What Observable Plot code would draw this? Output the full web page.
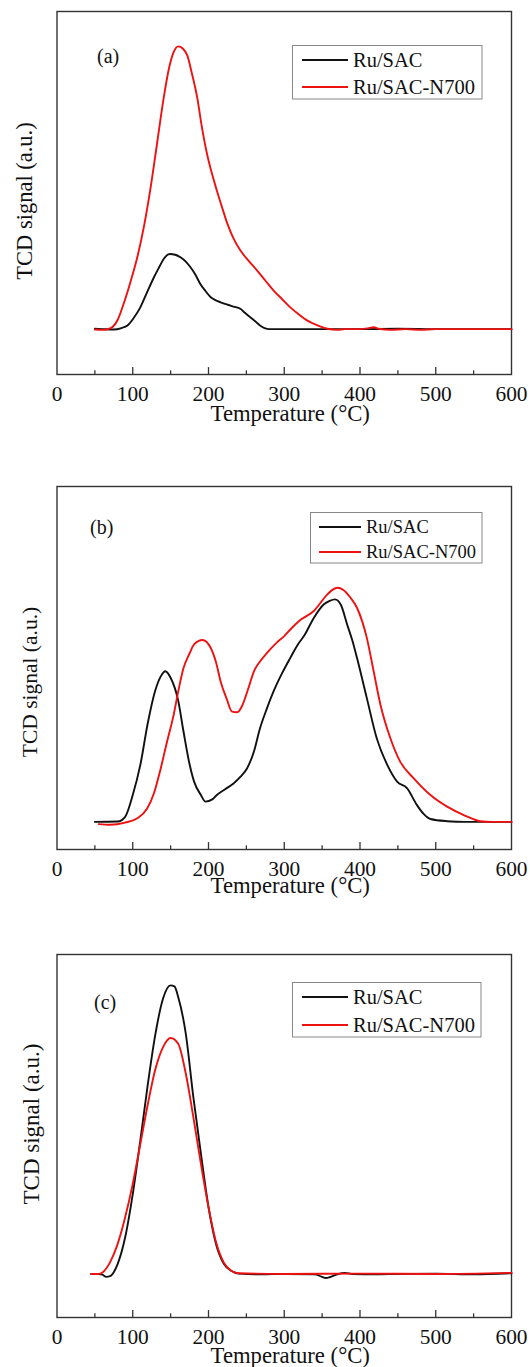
<!DOCTYPE html>
<html>
<head>
<meta charset="utf-8">
<script src="https://cdn.jsdelivr.net/npm/d3@7"></script>
<script src="https://cdn.jsdelivr.net/npm/@observablehq/plot@0.6"></script>
<style>
  body { margin: 0; background: #fff; }
  #root { position: relative; width: 530px; height: 1367px; overflow: hidden; font-family: "Liberation Serif", serif; }
  .panel { position: absolute; left: 0; }
  .legend { position: absolute; }
</style>
</head>
<body>
<div id="root"></div>
<script>
// ---------- data ----------
const seriesNames = ["Ru/SAC", "Ru/SAC-N700"];
const seriesColors = ["#111111", "#ee1111"];
const panelLabels = ["(a)", "(b)", "(c)"];
const xTicks = [0, 100, 200, 300, 400, 500, 600];
const xMinorTicks = [50, 150, 250, 350, 450, 550];
const xLabel = "Temperature (°C)";
const yLabel = "TCD signal (a.u.)";

// Panel (a)
const tempA_SAC = [50,60,75,85,93,101,110,119,128,135,141,149,156,163,170,176,183,189,196,203,209,216,224,233,242,248,255,262,268,274,280,300,350,400,450,500,550,600];
const sigA_SAC  = [12.6,12.5,12.4,12.8,13.5,15.5,18.5,22.7,26.8,29.6,31.9,33.2,33.0,32.3,31.1,29.6,27.4,25.0,23.0,21.3,20.5,19.9,19.3,18.7,18.1,17.0,15.8,14.6,13.5,12.8,12.5,12.5,12.5,12.5,12.6,12.5,12.5,12.5];
const tempA_N700 = [50,60,71,80,88,97,106,115,123,132,141,148,154,160,166,172,178,185,191,198,205,211,218,225,233,242,253,264,275,286,297,308,319,330,343,357,370,380,400,410,418,425,440,460,480,500,550,600];
const sigA_N700  = [12.4,12.3,12.8,15.0,19.5,25.5,32.3,41.0,50.7,63.5,76.4,84.5,88.8,90.4,89.8,87.9,83.0,76.4,68.5,60.8,55.0,50.7,46.0,41.5,37.5,34.2,31.3,28.7,25.9,23.1,20.8,18.5,16.6,14.9,13.6,12.6,12.3,12.5,12.5,12.7,13.0,12.6,12.3,12.5,12.3,12.5,12.5,12.5];

// Panel (b)
const tempB_SAC = [50,80,90,100,110,120,130,137,143,150,160,167,175,181,190,196,205,211,222,233,242,251,260,268,277,286,297,308,318,326,339,352,360,367,375,383,390,396,409,422,436,449,462,475,484,493,515,540,600];
const sigB_SAC  = [7.6,7.7,9.0,15.0,23.3,35.0,44.0,47.7,49.1,47.3,41.0,32.5,23.5,18.7,15.0,13.2,13.8,15.0,16.6,18.2,20.0,22.4,27.0,33.4,38.8,43.6,48.5,52.8,56.5,58.8,63.8,67.5,68.5,68.9,67.3,62.0,57.5,52.8,41.7,30.7,23.3,18.7,16.9,12.3,9.8,8.4,7.8,7.6,7.6];
const tempB_N700 = [55,70,90,106,119,128,137,145,154,160,167,175,181,192,203,210,216,224,231,238,244,252,260,268,277,290,300,308,320,339,357,364,370,378,387,396,409,418,427,440,453,471,493,515,537,559,575,600];
const sigB_N700  = [7.0,6.8,7.4,8.6,11.3,15.5,22.4,29.5,37.1,43.5,50.0,54.0,56.5,57.7,55.5,51.5,46.3,41.5,38.0,37.8,39.4,44.0,49.1,51.8,54.1,57.0,58.8,60.6,63.0,65.7,70.3,71.6,72.1,71.5,69.5,66.6,58.3,49.1,39.9,30.7,24.2,19.6,15.0,11.8,9.5,7.8,7.6,7.6];

// Panel (c)
const tempC_SAC = [45,55,60,65,70,80,90,100,110,120,130,140,150,155,160,170,180,190,200,210,220,230,240,270,300,340,350,355,360,370,380,390,420,450,500,550,600];
const sigC_SAC  = [12.0,12.0,11.8,11.2,11.4,14.7,22.1,34.0,48.8,64.4,78.2,87.9,91.5,91.2,88.3,78.2,60.7,45.1,30.4,20.2,14.9,12.9,12.1,11.9,12.0,11.9,11.2,10.9,11.1,11.9,12.3,12.0,11.9,12.0,12.1,11.9,12.2];
const tempC_N700 = [45,55,60,70,80,90,100,110,120,130,140,150,160,170,180,190,200,210,220,230,240,300,400,500,600];
const sigC_N700  = [12.0,12.0,12.4,15.2,20.2,27.6,36.8,47.8,58.9,68.5,74.5,77.0,75.4,67.2,55.2,42.3,30.4,20.7,15.2,12.9,12.2,12.0,12.1,12.0,12.3];

// ---------- layout config (positions/styles) ----------
const panels = [
  { top: 0,   temps: [tempA_SAC, tempA_N700], sigs: [sigA_SAC, sigA_N700],
    lab: {dx: 40, dy: 45}, ylab: {dx: -32, dy: 8, size: 22.5}, xlabDy: 38,
    legend: {left: 292, top: 45, w: 190, h: 54, lineX0: 10, lineX1: 56, textX: 61, rows: [15, 42], font: 20.5} },
  { top: 475, temps: [tempB_SAC, tempB_N700], sigs: [sigB_SAC, sigB_N700],
    lab: {dx: 33, dy: 41}, ylab: {dx: -27, dy: 14, size: 21.5}, xlabDy: 35,
    legend: {left: 310, top: 512, w: 172, h: 51, lineX0: 9, lineX1: 51, textX: 56, rows: [15, 40], font: 18.5} },
  { top: 943, temps: [tempC_SAC, tempC_N700], sigs: [sigC_SAC, sigC_N700],
    lab: {dx: 37, dy: 48}, ylab: {dx: -25.5, dy: -12, size: 23}, xlabDy: 37,
    legend: {left: 292, top: 982, w: 189, h: 55, lineX0: 10, lineX1: 56, textX: 61, rows: [15, 43], font: 20.5} }
];

const root = document.getElementById("root");

panels.forEach((p, i) => {
  const rows = [];
  p.temps.forEach((ts, s) => ts.forEach((t, k) => rows.push({series: seriesNames[s], t, v: p.sigs[s][k]})));

  const chart = Plot.plot({
    width: 530,
    height: 424,
    marginLeft: 56.5,
    marginRight: 19,
    marginTop: 11,
    marginBottom: 50,
    style: {fontFamily: "Liberation Serif, serif", background: "transparent", overflow: "visible", color: "#111"},
    x: {domain: [0, 600]},
    y: {domain: [0, 100]},
    color: {domain: seriesNames, range: seriesColors},
    marks: [
      Plot.frame({stroke: "#333", strokeWidth: 1.4}),
      Plot.ruleX(xTicks.slice(1, -1), {x: d => d, y1: 0, y2: 1.9, stroke: "#333", strokeWidth: 1.3}),
      Plot.ruleX(xMinorTicks, {x: d => d, y1: 0, y2: 1.0, stroke: "#333", strokeWidth: 1.3}),
      Plot.axisX({ticks: xTicks, tickSize: 0, tickPadding: 11, fontSize: 21.4, label: null, tickFormat: d => String(d)}),
      Plot.axisY({ticks: [], label: null, tickSize: 0}),
      Plot.line(rows, {x: "t", y: "v", z: "series", stroke: "series", strokeWidth: 1.9, curve: "monotone-x"}),
      Plot.text([xLabel], {frameAnchor: "bottom", dx: 6, dy: p.xlabDy + 1, fontSize: 22.7, textAnchor: "middle", lineAnchor: "middle", fill: "#111"}),
      Plot.text([yLabel], {frameAnchor: "left", rotate: -90, dx: p.ylab.dx, dy: p.ylab.dy, fontSize: p.ylab.size, textAnchor: "middle", lineAnchor: "middle", fill: "#111"}),
      Plot.text([panelLabels[i]], {frameAnchor: "top-left", dx: p.lab.dx, dy: p.lab.dy, textAnchor: "start", lineAnchor: "middle", fontSize: 20, fill: "#111"})
    ]
  });
  const wrap = document.createElement("div");
  wrap.className = "panel";
  wrap.style.top = p.top + "px";
  wrap.appendChild(chart);
  root.appendChild(wrap);

  // legend
  const L = p.legend;
  const svg = d3.select(root).append("svg")
    .attr("class", "legend")
    .style("left", L.left + "px").style("top", L.top + "px")
    .attr("width", L.w + 1).attr("height", L.h + 1);
  svg.append("rect").attr("x", 0.5).attr("y", 0.5).attr("width", L.w - 0.5).attr("height", L.h - 0.5)
    .attr("fill", "#fff").attr("stroke", "#888").attr("stroke-width", 1);
  seriesNames.forEach((name, s) => {
    svg.append("line").attr("x1", L.lineX0).attr("x2", L.lineX1).attr("y1", L.rows[s]).attr("y2", L.rows[s])
      .attr("stroke", seriesColors[s]).attr("stroke-width", 1.9);
    svg.append("text").attr("x", L.textX).attr("y", L.rows[s]).attr("dy", "0.35em")
      .attr("font-family", "Liberation Serif, serif").attr("font-size", L.font).attr("fill", "#111").text(name);
  });
});
</script>
</body>
</html>
